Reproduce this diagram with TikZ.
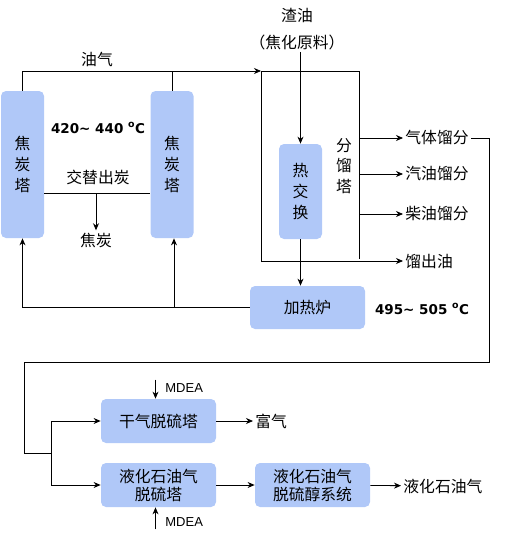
\documentclass[tikz,border=0pt]{standalone}
\usepackage{fontspec}
\setmainfont{Noto Sans CJK SC}
\newfontfamily\numfont{DejaVu Sans}
\newfontfamily\latfont{Liberation Sans}
\usetikzlibrary{arrows.meta}
\definecolor{boxblue}{RGB}{176,200,248}
\tikzset{
	unit/.style={fill=boxblue,rounded corners=5pt,inner sep=0pt,align=center},
	lbl/.style={inner sep=2pt},
	temp/.style={inner sep=0pt,font=\numfont\bfseries\fontsize{13.5}{16}\selectfont},
	mdea/.style={anchor=west,inner sep=0pt,font=\latfont\fontsize{13}{14}\selectfont}
}
\begin{document}
\begin{tikzpicture}[>={Stealth[length=7pt,width=6pt]},x=1pt,y=-1pt,line width=0.8pt,font=\fontsize{15.8}{18}\selectfont]
	\useasboundingbox (0,0) rectangle (511,538);
	% towers, exchanger, furnace
	\node[unit,minimum width=43,minimum height=147] (tA) at (22.5,164.5) {焦\\[3pt]炭\\[3pt]塔};
	\node[unit,minimum width=43,minimum height=147] (tB) at (172,164.5) {焦\\[3pt]炭\\[3pt]塔};
	\node[unit,minimum width=43,minimum height=95] (hx) at (300.5,191.5) {热\\[3pt]交\\[3pt]换};
	\node[unit,minimum width=115,minimum height=43] (fur) at (307.5,307.5) {加热炉};
	% fractionator
	\coordinate (fnw) at (261,71);
	\coordinate (fne) at (359,71);
	\draw (261,262) -- (fnw) -- (fne) -- (359,259);
	\node[align=center,inner sep=0pt] (frac) at (344,166) {分\\[2.5pt]馏\\[2.5pt]塔};
	% labels
	\node[lbl] (oil) at (97,59) {油气};
	\node[temp] (tmpA) at (98,128) {420\textasciitilde{} 440 \textsuperscript{o}C};
	\node[temp] (tmpB) at (422,309) {495\textasciitilde{} 505 \textsuperscript{o}C};
	\node[lbl] (swap) at (98,177) {交替出炭};
	\node[lbl] (coke) at (96,240) {焦炭};
	\node[lbl] (feed) at (297,15) {渣油};
	\node[lbl] (feedB) at (297,42) {（焦化原料）};
	\node[lbl,anchor=west] (gas) at (403,138) {气体馏分};
	\node[lbl,anchor=west] (gaso) at (403,174) {汽油馏分};
	\node[lbl,anchor=west] (dsl) at (403,214) {柴油馏分};
	\node[lbl,anchor=west] (dist) at (403,261) {馏出油};
	% coker section
	\draw[->] (tA.north) |- (fnw);
	\draw (tB.north) -- (tB.north |- fnw);
	\draw (tA.east |- swap.south) ++(0,7) coordinate (cw) -- (tB.west |- cw);
	\draw[->] (coke.north |- cw) -- (coke.north);
	\draw[->] (hx.north |- feedB.south) -- (hx.north);
	\draw[->] (hx.south) -- (hx.south |- fur.north);
	\draw (fur.west) -- (tA.south |- fur.west);
	\draw[->] (tA.south |- fur.west) -- (tA.south);
	\draw[->] ([xshift=2pt]tB.south |- fur.west) -- ([xshift=2pt]tB.south);
	\draw[->] (gas.west -| fne) -- (gas.west);
	\draw[->] (gaso.west -| fne) -- (gaso.west);
	\draw[->] (dsl.west -| fne) -- (dsl.west);
	\draw[->] (fnw |- dist.west) -- (dist.west);
	% gas treating
	\node[unit,minimum width=115,minimum height=44] (dry) at (158.5,421) {干气脱硫塔};
	\node[unit,minimum width=115,minimum height=44] (lpg) at (158.5,485) {液化石油气\\脱硫塔};
	\node[unit,minimum width=115,minimum height=44] (mer) at (312.5,485) {液化石油气\\脱硫醇系统};
	\node[lbl,anchor=west] (rich) at (253,421) {富气};
	\node[lbl,anchor=west] (lpgout) at (401,486) {液化石油气};
	\node[mdea] (mdA) at (165,388) {MDEA};
	\node[mdea] (mdB) at (165,522) {MDEA};
	\coordinate (br) at (51,453);
	\draw (gas.east) -| (489,362) -| (24,453) -- (br);
	\draw[->] (br) |- (dry.west);
	\draw[->] (br) |- (lpg.west);
	\draw[->] (dry) -- (rich);
	\draw[->] (lpg) -- (mer);
	\draw[->] (mer) -- (lpgout);
	\draw[->] ([xshift=-3pt]dry.north) ++(0,-19) -- ([xshift=-3pt]dry.north);
	\draw[->] ([xshift=-3pt]lpg.south) ++(0,22) -- ([xshift=-3pt]lpg.south);
\end{tikzpicture}
\end{document}
